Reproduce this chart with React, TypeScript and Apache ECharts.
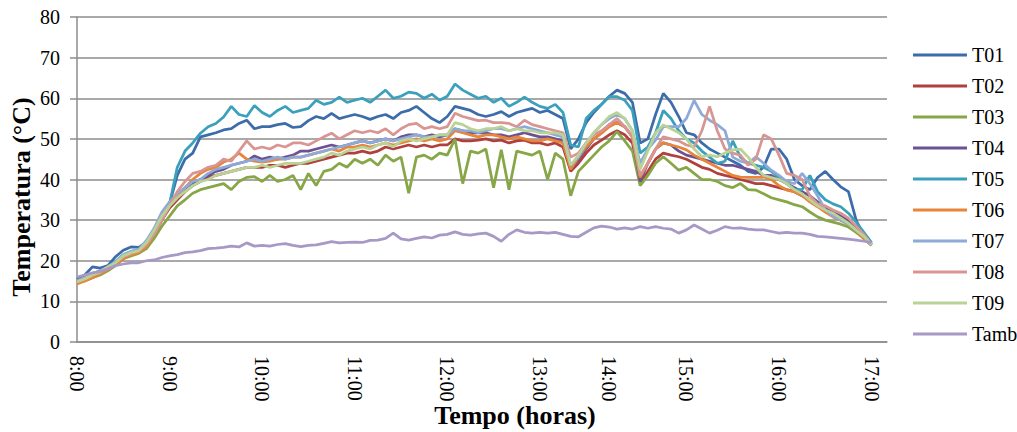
import React, { useEffect, useRef } from "react";
import * as echarts from "echarts";

const categories = (
  "8:00 8:05 8:10 8:15 8:20 8:25 8:30 8:35 8:40 8:45 8:50 8:55 " +
  "9:00 9:05 9:10 9:15 9:20 9:25 9:30 9:35 9:40 9:45 9:50 9:55 " +
  "10:00 10:05 10:10 10:15 10:20 10:25 10:30 10:35 10:40 10:45 10:50 10:55 " +
  "11:00 11:05 11:10 11:15 11:20 11:25 11:30 11:35 11:40 11:45 11:50 11:55 " +
  "12:00 12:05 12:10 12:15 12:20 12:25 12:30 12:35 12:40 12:45 12:50 12:55 " +
  "13:00 13:05 13:10 13:15 13:20 13:25 13:30 13:35 13:45 " +
  "14:00 14:05 14:10 14:15 14:20 14:25 14:30 14:35 14:40 14:50 " +
  "15:00 15:05 15:10 15:15 15:20 15:25 15:30 15:35 15:40 15:45 15:50 15:55 " +
  "16:00 16:05 16:10 16:15 16:20 16:25 16:30 16:35 16:40 16:45 16:50 16:55 " +
  "17:00 17:05 17:10"
).split(" ");

const seriesNames = ["T01", "T02", "T03", "T04", "T05", "T06", "T07", "T08", "T09", "Tamb"];
const seriesColors = ["#3d6cab", "#b0403d", "#87a646", "#6b5293", "#3aa0bb", "#e8853a", "#8eaad8", "#d99592", "#b9d296", "#a898c6"];

const T01 = [
  15.5, 16.5, 18.5, 18.2, 18.8, 21.0, 22.6, 23.4, 23.3, 24.5,
  27.0, 30.5, 34, 41, 45, 46.5, 50.5, 51, 51.5, 52.2,
  52.5, 53.8, 54.6, 52.5, 53, 53, 53.5, 53.8, 52.8, 53,
  54.5, 55.5, 55, 56.3, 55, 55.5, 56, 55.5, 54.8, 55.5,
  56, 55, 56.5, 57, 58, 56.5, 55, 54, 55.5, 58,
  57.5, 57, 56, 55.5, 56, 56.7, 55.5, 56.5, 57, 57.5,
  56.5, 57, 56, 55, 47.5, 50, 54, 56.5, 58.5, 60.5,
  62, 61.2, 59, 49, 50, 56, 61.2, 59, 55.5, 51.5,
  51, 49, 47.5, 46.5, 45.5, 44.5, 43.5, 42, 41.5, 43,
  47.5, 47.5, 45, 40, 38.5, 37.5, 40.5, 42, 40, 38.2,
  37, 30, 26, 24.3,
];
const T02 = [
  14.8, 15.3, 16, 17, 18, 19.2, 20.8, 21.5, 22, 23.5,
  26.5, 30, 33, 35, 37, 38.5, 39.5, 40.7, 41, 41.5,
  42, 42.5, 43, 43, 43, 43.5, 43.5, 43, 43.5, 44,
  44, 44.5, 45, 45.5, 46, 46.5, 46.5, 47, 46.5, 47,
  48, 47.5, 48, 48.5, 48, 48.5, 48, 48.5, 48.5, 50,
  49.5, 49.5, 49.7, 50, 49.5, 49.7, 49, 49.5, 49.7, 49,
  49, 48.5, 49, 48, 42, 44, 46.5, 48.5, 49.7, 51,
  52, 51, 49, 39, 42, 45, 46.5, 46, 45.6, 45,
  44, 43, 42.5, 41.5, 41, 40.6, 40, 39.5, 39, 39,
  38.5, 38, 37.5, 37, 36, 35, 33.5, 32.5, 31.5, 30,
  29, 27.5, 25.5, 23.8,
];
const T03 = [
  14.8, 15, 15.8, 16.5, 17.5, 18.8, 20.5, 21.2, 21.8, 23,
  25.5, 28.5, 31, 33.5, 35, 36.6, 37.5, 38, 38.5, 39,
  37.5, 39.5, 40.5, 40.7, 39.5, 41, 39.5, 40, 41, 37.5,
  41.5, 38.5, 42, 42.5, 44, 43, 45, 44, 45, 43.5,
  46, 44.5, 45.5, 36.6, 45.5, 46, 45, 46.5, 46, 50,
  39, 47, 46.5, 47.5, 38, 47.3, 37.5, 47, 46.5, 46,
  47, 40, 46.5, 45, 36, 42, 44, 46, 48, 49.5,
  51.8, 49.5, 47, 38.5, 41, 44, 45.6, 44, 42.3, 43,
  41.5, 40, 40, 39.5, 38.5, 38, 39, 37.5, 37.4, 36.5,
  35.5, 35, 34.5, 33.8, 33.3, 32, 30.8, 30, 29.5, 29,
  28.3, 27, 25.5, 23.8,
];
const T04 = [
  15, 15.5, 16.3, 17, 18.2, 19.5, 21, 21.8, 22.5, 24.5,
  27.5, 31, 34, 36, 37.5, 39, 40, 41, 42, 42.5,
  43.5, 44, 44.5, 45.8, 45, 45.5, 45, 45.5, 46, 47,
  47, 47.5, 48, 48.5, 48, 48.5, 49, 49.5, 49, 49.5,
  50, 49.5, 50.5, 51, 51, 50.5, 51, 50.5, 51, 52.5,
  52, 51.5, 51.5, 51.5, 51, 51, 50.5, 51, 51.5, 51,
  50.5, 50.5, 50, 49.5, 42.5, 45, 47.5, 50, 51.5, 53.5,
  54, 53, 50.5, 39.5, 44, 47.5, 49, 48.5, 47, 46,
  45.5, 45, 44.5, 44, 43.5, 43.5, 43, 42.5, 42, 41,
  41, 40, 39, 38, 37, 36, 34.5, 33, 32, 31,
  30, 28, 26, 24,
];
const T05 = [
  15.2, 15.8, 16.8, 17.5, 18.5, 19.8, 21.5, 22.3, 22.6, 24.0,
  26.5, 30, 34, 43, 47, 49, 51.4, 53, 53.8, 55.4,
  58, 56, 55.5, 58.2, 56.5, 55.5, 57, 58, 56.5, 57,
  57.5, 59.5, 58.5, 59, 60.3, 59, 59.5, 60, 59, 60.5,
  62, 60, 60.5, 61.5, 61.2, 60, 61, 59.5, 60.5, 63.5,
  62, 61, 60, 60.5, 59, 60, 58, 59, 60.3, 59,
  58, 57.5, 58.5, 56.5, 48.5, 48, 55, 57, 58.5, 60.4,
  60.4, 59.5, 57, 46.5, 48, 51.5, 57, 55, 52, 50,
  49, 47, 45.5, 44, 44.5, 49.5, 45.5, 44, 43.5, 43,
  42, 40.6, 39, 37.5, 37.5, 41, 37, 35, 34, 33.3,
  31.7, 29.5, 27, 24.5,
];
const T06 = [
  14.3, 15, 15.8, 16.8, 17.8, 19, 20.5, 21.5, 22, 23.5,
  26.5, 30, 33.5, 36, 38, 40, 41.5, 42.5, 43, 44.3,
  45, 46.5, 45, 44.5, 44.3, 44.5, 45, 45, 45.5, 45.5,
  46, 46.5, 47, 47.5, 47, 48, 48, 48.5, 48, 48.5,
  49, 48.5, 49, 49.5, 50, 49.5, 50, 49.5, 50, 52,
  51.5, 51, 50.5, 51, 51, 50.5, 50, 50.5, 50, 49.5,
  49.5, 50, 49.5, 49, 42.5, 45.5, 48, 50, 51.4, 53,
  54, 53, 50.5, 40.5, 44, 47.5, 49, 48.5, 48, 47.3,
  46, 45, 44, 43, 42, 41, 40.6, 40.5, 40.5, 40.6,
  40, 38.5, 37.4, 37, 36, 34.5, 33.3, 32, 30.8, 30,
  29, 27.5, 25.5, 24,
];
const T07 = [
  15, 15.8, 16.8, 17.5, 18.5, 19.8, 21.5, 22.3, 22.8, 25,
  28, 32, 34.5, 36.5, 38, 39.5, 40, 41.5, 42.5, 43,
  43.5, 44, 44.5, 45, 44.5, 45, 45.5, 45, 45.5, 45.5,
  46, 46.5, 47, 47.5, 48, 48.5, 49, 49.5, 49, 49.5,
  50, 49.5, 50, 50.5, 51, 50.5, 50.5, 51, 51, 52.5,
  52, 52, 51.5, 52, 52.5, 52.5, 52, 52.5, 53, 52.5,
  52, 51.5, 51, 50.5, 43.5, 45.5, 49, 51.5, 53.5, 55,
  56, 55, 52, 44, 47.5, 49.7, 53, 53, 53, 55,
  59.5, 56, 54.6, 53.5, 52, 45.5, 44.5, 44, 45.6, 44,
  42.3, 41, 39.5, 39, 41.5, 39, 36, 32.5, 31, 30,
  29, 27.5, 26, 24,
];
const T08 = [
  15, 15.5, 16.5, 17.3, 18.5, 19.5, 21, 21.8, 22.4, 24,
  26.5, 30, 33.5, 37, 39.5, 41.5, 42, 43, 43.5, 45,
  44.5, 47, 49.5, 47.5, 48, 47.5, 48.5, 48, 49, 49,
  48.5, 49.5, 50.5, 51.4, 50, 51, 52, 51.5, 52, 51.5,
  52.5, 51, 52.5, 53.5, 53.8, 52.5, 53, 52.5, 53, 56.3,
  55.5, 55, 54.5, 54.6, 54, 54, 53.8, 53, 54.6, 53.5,
  53, 52.5, 52, 51.5, 45.5, 46.5, 49, 51, 52, 53.5,
  55, 53, 50.5, 41, 44, 47.5, 50.5, 50, 49.5, 48.5,
  48, 52, 58, 52, 47.5, 46.5, 46, 43.5, 45, 51,
  50, 46, 41.5, 41, 40, 36, 34, 33.5, 32.5, 31.7,
  30.5, 28.5, 26.5, 24,
];
const T09 = [
  14.8, 15.5, 16.5, 17.2, 18.5, 19.5, 21.2, 22, 22.5, 24.5,
  27.5, 31, 33.5, 35.5, 37, 38.5, 39.5, 40, 41, 41.5,
  42, 42.5, 43, 43, 43.5, 43, 43.5, 44, 44, 44,
  44.5, 45, 45.5, 46.5, 46, 47, 47.5, 48, 47.5, 48.5,
  49, 48, 49.5, 50, 49.5, 50, 50.5, 51, 51, 54,
  53.5, 52.5, 52, 52.5, 52.5, 53, 52, 52.5, 52, 52,
  51.5, 51.5, 51.5, 51, 43.5, 46, 49, 51.5, 53.5, 55.5,
  56.5, 55, 52, 42.5, 47, 51.5, 53.4, 52.5, 51.5, 50,
  47.5, 45.6, 46, 45.6, 46.5, 47.3, 47.5, 45.5, 43, 41,
  40.5, 40, 39, 37.5, 36.5, 35, 33.5, 32.5, 31.7, 30.5,
  29.2, 27.5, 26, 24,
];
const Tamb = [
  16, 16.5, 17, 17.3, 18, 18.8, 19.2, 19.5, 19.5, 20,
  20.2, 20.8, 21.2, 21.5, 22, 22.2, 22.5, 23, 23.1, 23.3,
  23.6, 23.4, 24.4, 23.6, 23.8, 23.6, 24, 24.2, 23.8, 23.5,
  23.8, 23.9, 24.3, 24.7, 24.4, 24.5, 24.6, 24.5, 25, 25.1,
  25.5, 26.8, 25.4, 25.1, 25.5, 25.9, 25.6, 26.3, 26.5, 27.1,
  26.5, 26.3, 26.6, 26.8, 26, 24.8, 26.5, 27.6, 27, 26.8,
  27, 26.8, 27, 26.5, 26, 25.9, 27, 28.1, 28.5, 28.3,
  27.8, 28.1, 27.8, 28.4, 28, 28.4, 28, 27.8, 26.8, 27.6,
  28.8, 27.8, 26.8, 27.5, 28.4, 28, 28.1, 27.8, 27.6, 27.6,
  27.2, 26.8, 27, 26.8, 26.8, 26.5, 26, 25.9, 25.7, 25.5,
  25.3, 25.1, 24.8, 24.5,
];

const seriesData = [T01, T02, T03, T04, T05, T06, T07, T08, T09, Tamb];

const FONT = "Liberation Serif";
const GRID = "#8c8c8c";

export default function App() {
  const ref = useRef<HTMLDivElement>(null);
  useEffect(() => {
    if (!ref.current) return;
    const chart = echarts.init(ref.current, undefined, { renderer: "svg" });
    chart.setOption({
      animation: false,
      backgroundColor: "#ffffff",
      textStyle: { fontFamily: FONT },
      grid: { left: 77, right: 130, top: 17, bottom: 90, containLabel: false },
      legend: {
        orient: "vertical",
        left: 908,
        top: 40,
        icon: "rect",
        itemWidth: 54,
        itemHeight: 3,
        itemGap: 11,
        data: seriesNames,
        textStyle: { fontFamily: FONT, fontSize: 20, color: "#000", lineHeight: 20 },
      },
      xAxis: {
        type: "category",
        data: categories,
        boundaryGap: false,
        axisLine: { show: true, lineStyle: { color: GRID, width: 1.5 } },
        axisTick: { show: false },
        splitLine: { show: false },
        axisLabel: {
          interval: (_i: number, v: string) => v.endsWith(":00"),
          rotate: -90,
          fontFamily: FONT,
          fontSize: 20,
          color: "#000",
          margin: 14,
        },
      },
      yAxis: {
        type: "value",
        min: 0,
        max: 80,
        interval: 10,
        axisLine: { show: true, lineStyle: { color: GRID, width: 1.5 } },
        axisTick: { show: true, length: 7, lineStyle: { color: GRID, width: 1.5 } },
        splitLine: { show: true, lineStyle: { color: GRID, width: 1.5 } },
        axisLabel: { fontFamily: FONT, fontSize: 20, color: "#000", margin: 17 },
      },
      series: seriesNames.map((name, k) => ({
        name,
        type: "line",
        data: seriesData[k],
        showSymbol: false,
        symbol: "none",
        smooth: false,
        lineStyle: { color: seriesColors[k], width: 2.75 },
        itemStyle: { color: seriesColors[k] },
      })),
      graphic: [
        {
          type: "text",
          x: 21,
          y: 197,
          rotation: Math.PI / 2,
          style: {
            text: "Temperatura (°C)",
            fontFamily: FONT,
            fontSize: 26,
            fontWeight: "bold",
            fill: "#000",
            align: "center",
            verticalAlign: "middle",
          },
        },
        {
          type: "text",
          x: 515,
          y: 415,
          style: {
            text: "Tempo (horas)",
            fontFamily: FONT,
            fontSize: 26,
            fontWeight: "bold",
            fill: "#000",
            align: "center",
            verticalAlign: "middle",
          },
        },
      ],
    });
    return () => chart.dispose();
  }, []);
  return (
    <div
      ref={ref}
      style={{ position: "fixed", left: 0, top: 0, width: 1017, height: 432, background: "#fff" }}
    />
  );
}
